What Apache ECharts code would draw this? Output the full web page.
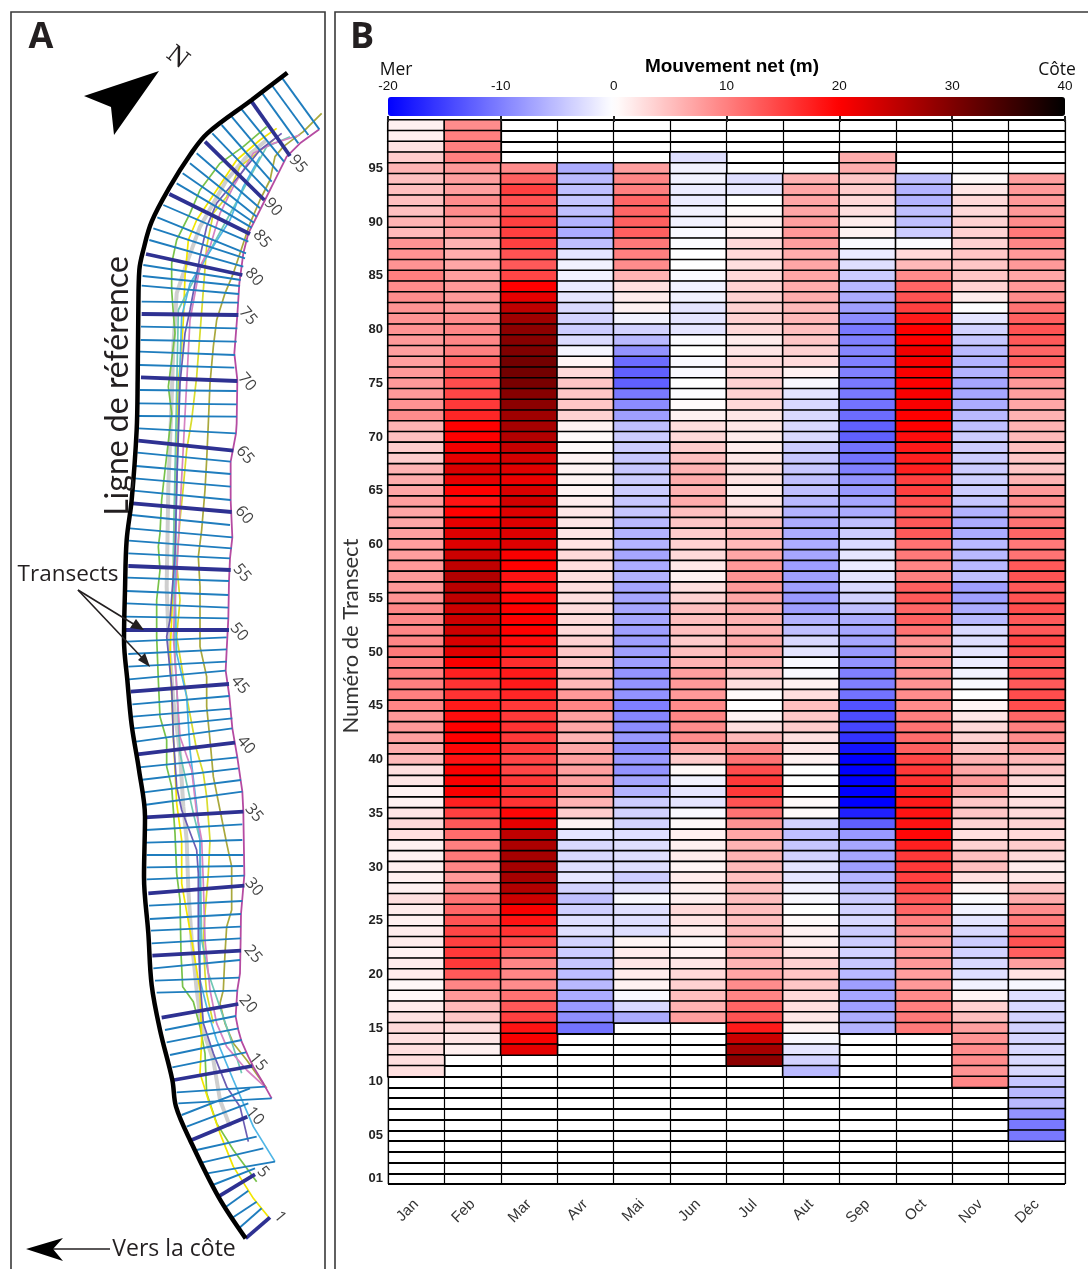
<!DOCTYPE html>
<html><head><meta charset="utf-8">
<style>html,body{margin:0;padding:0;background:#fff}#c{width:1088px;height:1269px}</style>
<script src="https://cdn.jsdelivr.net/npm/echarts@6/dist/echarts.min.js"></script>
</head><body><div id="c"></div>
<script>
const _ = null;
const months = ['Jan','Feb','Mar','Avr','Mai','Jun','Jul','Aut','Sep','Oct','Nov','Déc'];
const rowLabels = ['01','02','03','04','05','06','07','08','09','10','11','12','13','14','15','16','17','18','19','20','21','22','23','24','25','26','27','28','29','30','31','32','33','34','35','36','37','38','39','40','41','42','43','44','45','46','47','48','49','50','51','52','53','54','55','56','57','58','59','60','61','62','63','64','65','66','67','68','69','70','71','72','73','74','75','76','77','78','79','80','81','82','83','84','85','86','87','88','89','90','91','92','93','94','95','96','97','98','99'];
const shownRows = ['01','05','10','15','20','25','30','35','40','45','50','55','60','65','70','75','80','85','90','95'];
// each month: transect 99 down to transect 1
const jan = [1.2,1.2,2.2,4,6,5,5,5,5,6, 5.5,8.5,8.5,8.5,10,9,9,8.5,8.5,8.5, 8,7.5,7.5,8,8,8,8.5,9,6,5, 4,4,6,6.5,7,7.5,7,7,7.5,7.5, 7.5,8,8,8,8.5,9.5,9.5,9.5,9.5,10.5, 10,10,10,10,9.5,8,8,7.5,6.5,5.5, 2.5,2,1,1,2,3,2.5,1.2,1.2,1.2, 1.2,1.2,2.5,1.5,1.2,1.5,1.5,1,1.5,1.5, .6,.6,1.5,2.2,3,2.5,2.5,2.5,2.5,_, _,_,_,_,_,_,_,_,_];
const feb = [9,10,10,10,8,7.5,7.5,9,9,8, 7.5,6,6.5,7,7.5,8,8,8,9,9.5, 9.5,10,12,13,14,14.5,15.5,17,20,20, 21,22,23,22,20,18.5,20,22,22.5,22.5, 24,25,26,25.5,25,24,24,24,23,22.5, 20.5,17.5,16,16,18,19,20,20,19.5,18.5, 20.5,20.5,20.5,17.5,15,13,11.5,10,10.5,9.5, 8,9,11,12,13.5,14.5,15,15.5,15.5,13, 9.5,8,5.5,4.5,2.8,2,1.2,_,_,_, _,_,_,_,_,_,_,_,_];
const mar = [_,_,_,_,9,12.5,15,13.5,13.5,15, 15,15,13.5,13,14.5,20,22,25,27.5,29, 29.5,30,31,31,30.5,29.5,29,27.5,27,26, 24.5,23.5,22.5,21.5,23,23.5,22.5,22.5,22.5,22.5, 20.5,20,18.5,18.5,19.5,20,20,20,19,18, 16.5,18,18,17,15.5,15.5,16,15.5,15.5,14.5, 14.5,15.5,16,16,19.5,22,25,26.5,27,27, 27,26,24,20.5,18.5,16,14,12,9.5,9.5, 9,11,13,15,18.5,20.5,22,_,_,_, _,_,_,_,_,_,_,_,_];
const avr = [_,_,_,_,-6.5,-5.5,-5,-4.5,-5,-6, -6.5,-5,-2,-1,-1,-1.5,-2,-3,-3.5,-4, -2.8,-.8,.8,3,4.5,4.5,4.5,3.5,1,.5, .5,1,1,1,1,1.5,2,2,2,2.3, 3,2.5,2.5,2.5,2.5,2.8,2.8,3,3.5,4.5, 4.5,5.5,5.5,8,9.5,7.5,7,6,7,7.5, 7.5,7.5,7.5,6,4,1,-2,-3,-3,-2.5, -2,-3.5,-5,-3.8,-2.5,-2.5,-3.5,-4,-4.5,-5.2, -5.5,-6.5,-8,-8.8,-11,_,_,_,_,_, _,_,_,_,_,_,_,_,_];
const mai = [_,_,_,_,7.5,9.5,10,12,12,12.5, 12.5,10.5,10,9,6,2.5,1.5,1,-1,-3.5, -5.5,-8.5,-11.5,-12.5,-12.5,-10.5,-9,-7.5,-5,-4, -4,-4.5,-4.5,-4,-4,-4.5,-4.5,-5.5,-6,-6, -7,-6.5,-6,-7,-7,-7,-7,-7.5,-7.5,-7.5, -7.5,-8.5,-8.5,-8.5,-10,-9.5,-9,-8,-9,-8, -8.5,-7,-6,-4,-3.5,-3.5,-2.5,-2.5,-2.5,-2.5, -4,-2.5,-.5,-2.5,-2.5,-2.5,.8,1.5,2,1.5, 1,-.5,-3,-6.5,_,_,_,_,_,_, _,_,_,_,_,_,_,_,_];
const jun = [_,_,_,-2.5,-1,-1,-1.5,-1.5,-1,-1, -.5,-.2,0,0,-.3,-1,-1,-2,-2,-2, -.3,0,-.5,-.5,0,-.2,.3,1,2.5,3, 4,5,6,6.5,6,6.5,5,4.5,4,3.5, 3,1.8,1,2.5,3.5,5,5,5,4,5, 6,7.5,8,8,9,9.5,9,9,7,4, .5,-1,-2,-2,-.5,.5,1.2,1.2,1.5,.8, 1.5,1.2,1.2,3,2.2,1.5,.6,1,2,3, 3.5,5,6,7.5,_,_,_,_,_,_, _,_,_,_,_,_,_,_,_];
const jul = [_,_,_,_,_,-2.5,-1.8,0,.3,1, 1.2,3,3,2.5,3,3.5,3.5,3.5,3.5,3, 1.5,2,2.8,3,3.5,3.5,3,2,2,1.5, 1.5,2,2.5,2.2,1.5,2,3,5,5.5,5.5, 7,8,8.5,8,7,6.5,6,6,6.5,7, 6,4.5,2.5,.5,0,1,2.5,5.5,9,11, 14,15.5,15.5,13.5,11,8.5,7,6,6,5.5, 5,5,5,5,5,5.5,6,6,6,7, 9,9.5,12,13.5,18,24,27,29,_,_, _,_,_,_,_,_,_,_,_];
const aut = [_,_,_,_,_,6,7,7,7,7.5, 8,7.5,6.5,7,7,6.5,6.5,5.5,5.5,5, 4.5,3.5,2.8,1,-.5,-2,-3,-3,-3,-3, -4,-4.5,-4.5,-5,-5,-5.5,-6,-6.5,-6.5,-6.5, -7,-7.5,-7.5,-7.5,-8,-7.5,-6,-5,-3,-2, -.5,-.5,1,2.5,5,4.5,4,2.5,2,1, 0,0,0,.5,.5,-3.5,-5,-4.5,-3.5,-2, -2,-1,-.5,0,.4,1,1.2,2.2,3.5,4.5, 4.5,3,2.5,2,1,-.5,-2,-3.5,-5.5,_, _,_,_,_,_,_,_,_,_];
const sep = [_,_,_,6.5,6.5,4.5,4,3,2.5,1.5, 1,-.5,-1.5,-2.5,-4,-5.5,-6.5,-7.5,-9,-10.5, -10,-9.5,-10,-10,-10.5,-10.5,-11,-11.5,-12.5,-12.5, -11,-11,-10,-8.5,-8,-7,-6.5,-5,-4,-2.8, -2,-1.5,-2,-3,-3.5,-5,-6.5,-7,-7,-8, -8.5,-10,-10,-11,-13.5,-14,-14.5,-16,-18.5,-20, -20,-20,-20,-20,-17.5,-12.5,-8,-7,-7,-7.5, -6,-5,-4,-3.5,-3,-4,-4,-3.5,-4.5,-5.5, -7.5,-7,-7.5,-6.5,-6,_,_,_,_,_, _,_,_,_,_,_,_,_,_];
const oct = [_,_,_,_,_,-5,-6,-6,-5,-5, -4,-.3,3,5.5,9,12,13.5,15,18,20, 20,21,20.5,20.5,20,20.5,20.5,20,20,19, 18,17.5,17.5,15,15,13.5,12.5,13,13,11, 10.5,9.5,10,12.5,13,12,12.5,11,8.5,8, 8.5,8.5,8.5,9,9,10,11,11.5,12.5,14.5, 15.5,16,17,18,18.5,18.5,19.5,17.5,15.5,15.5, 15,14.5,13,12,10,8.5,8,8,8,7.5, 8,9,10,10.5,10.5,_,_,_,_,_, _,_,_,_,_,_,_,_,_];
const nov = [_,_,_,_,_,.5,2,3,3,3.5, 3.5,3.5,4.5,4.5,4.5,3.5,1.5,-.1,-2,-3.5, -4.5,-5.5,-6,-6,-7,-7,-6.5,-5.5,-5,-4, -4,-4,-4,-3.8,-4,-4.5,-6,-6.5,-6.5,-5.5, -5.5,-5.5,-5,-7.5,-7.5,-6.5,-5.5,-3,-2.5,-2, -1.5,-1,-.5,0,.8,2,3,3.5,4.5,6, 7,8,6.5,4.5,4.5,3.5,2.5,3.5,5,5, 2.5,.8,-.2,-1,-2,-3,-4,-3.5,-3,-2.5, -1,.8,3.5,5,7.5,8.5,9,9,8.5,9.5, _,_,_,_,_,_,_,_,_];
const dec = [_,_,_,_,_,7.5,8,8,8,9, 10.5,9.5,8,8,7,8,9,11,12.5,13.5, 13,12,12.5,10.5,8,7.5,7,6,6,5.5, 5,4.5,4.5,6,8,9,9.5,11,12,10.5, 11,13,13.5,13,13.5,14,13,13,14.5,14, 13,13.5,13,14,14,12,10,9,7.5,5.5, 4.5,3,2.2,2.5,3,3.5,3,4,3,1.5, 2,4.5,6.5,9,10.5,12,13.5,12.5,7.5,2.2, -.6,-2.5,-3,-3.5,-3.5,-3.2,-3,-3,-3,-4.5, -5.5,-5.5,-8.5,-10.5,-10.5,_,_,_,_];
const columns = [jan,feb,mar,avr,mai,jun,jul,aut,sep,oct,nov,dec];

// map readings, in thirds of a pixel, by sheet section (y origin 0, 420, 840)
const baseline = [[[862,218],[755,300],[622,400],[570,465],[510,560],[455,665],[430,750],[418,810],[415,930],[413,1140]],
 [[410,30],[395,240],[380,360],[375,510],[372,660],[382,780],[395,915],[417,1050],[435,1190]],
 [[432,110],[445,280],[455,435],[480,570],[517,720],[528,800],[570,900],[655,1070],[737,1195]]];
const thinTransects = [[[845,232,958,388],[815,255,925,405],[785,278,895,430],[725,328,852,485],[695,350,833,515],[665,375,815,545],[637,400,805,575],[590,460,780,625],[570,490,770,650],[548,520,762,668],[530,550,755,683],[490,615,745,725],[472,652,738,760],[460,685,735,775],[448,720,730,800],[430,795,722,840],[428,828,720,858],[425,857,717,882],[425,905,715,908],[423,980,712,985],[422,1020,710,1025],[420,1055,705,1065],[420,1095,703,1103],[420,1170,710,1173],[415,1210,710,1213],[413,1248,710,1250]],
 [[415,25,708,40],[412,98,692,125],[408,138,692,162],[403,175,692,200],[400,212,692,240],[395,285,690,315],[390,325,697,352],[387,362,695,385],[385,400,690,415],[382,473,687,483],[380,513,685,525],[378,550,685,563],[375,590,685,595],[378,665,680,652],[385,702,680,688],[385,740,680,725],[387,778,677,752],[397,853,688,828],[398,890,692,866],[402,925,697,895],[408,965,697,925],[417,1042,712,1012],[420,1080,715,1045],[425,1118,723,1080],[432,1155,727,1115],[437,1230,727,1213]],
 [[438,8,727,0],[440,45,730,45],[440,82,730,78],[440,118,733,107],[447,197,727,183],[450,237,723,222],[453,272,722,260],[455,310,722,295],[460,385,720,360],[465,422,718,413],[470,458,712,452],[495,570,708,528],[500,607,715,565],[510,645,725,600],[517,682,738,637],[530,757,795,740],[535,790,815,775],[545,825,750,745],[560,860,745,790],[590,930,770,890],[605,968,790,925],[622,1000,825,965],[638,1035,765,985],[672,1105,745,1052],[695,1135,770,1085],[717,1165,785,1105]]];
const thickTransects = [[[755,305,870,468],[615,425,793,600],[508,582,750,702],[438,762,727,825],[425,942,715,945],[423,1132,712,1143]],
 [[415,62,700,92],[398,250,695,276],[385,438,692,450],[378,628,687,628],[392,815,687,792],[412,1003,705,968],[435,1192,730,1175]],
 [[445,160,733,137],[457,347,723,332],[485,533,715,492],[522,720,757,678],[575,900,742,830],[655,1070,765,1003],[737,1195,810,1132]]];
const shoreMagenta = [[[958,388],[900,430],[860,470],[830,530],[795,600],[765,660],[745,700],[730,760],[718,850],[712,945],[703,1060],[712,1140],[710,1270]],
 [[708,40],[692,125],[692,240],[697,352],[690,415],[687,483],[685,595],[680,690],[677,752],[688,828],[697,925],[712,1012],[727,1115],[730,1175]],
 [[733,105],[723,222],[722,295],[720,400],[712,450],[707,530],[715,570],[725,605],[745,650],[760,680],[790,730],[815,775]]];
const shoreOlive = [[[965,340],[910,395],[850,440],[825,470],[810,540],[780,600],[750,670],[725,745],[700,820],[675,880],[650,960],[640,1040],[630,1150],[625,1270]],
 [[620,120],[615,210],[605,330],[595,410],[600,500],[600,680],[620,770],[620,860],[630,960],[640,1070],[660,1170],[680,1270]],
 [[695,80],[695,210],[680,260],[675,340],[670,450],[660,490],[675,550],[700,610],[740,660],[800,745]]];
const shoreGreen = [[[800,380],[730,440],[660,490],[600,570],[570,640],[530,720],[515,790],[515,870],[520,940],[525,1000],[515,1080],[505,1160],[515,1240]],
 [[495,150],[485,240],[480,340],[475,380],[480,450],[470,540],[470,650],[475,780],[480,890],[500,960],[500,1040],[515,1100],[525,1240]],
 [[530,100],[540,180],[543,340],[548,440],[580,485],[600,560],[615,640],[620,760],[650,850],[700,930],[770,1025]]];
const shoreYellow = [[[830,385],[780,420],[710,480],[650,570],[590,660],[565,720],[555,830],[550,960],[545,1040],[535,1150]],
 [[525,200],[520,450],[515,600],[510,700],[520,950],[530,1150]],
 [[545,0],[545,130],[575,300],[600,450],[605,600],[600,700],[625,780],[660,880],[700,980],[760,1075],[805,1130]]];
const shoreLime = [[[820,420],[720,500],[680,590],[640,640],[620,740],[600,1000],[590,1130]],
 [[575,0],[560,90],[550,200],[540,300],[530,430],[540,540],[530,650],[560,830],[590,990],[610,1060],[620,1130]],
 [[630,0],[625,100],[615,220],[610,300],[615,400],[620,460],[640,550]]];
const shoreGray = [[[800,420],[740,470],[680,540],[600,680],[560,790],[530,880],[520,1040],[515,1200]],
 [[505,200],[500,500],[505,640],[520,840],[540,1000],[550,1160]],
 [[560,0],[565,150],[575,300],[590,450],[605,560],[640,660],[660,780],[690,860]]];
const shorePurple = [[[845,400],[780,450],[715,530],[650,610],[620,680],[600,770],[570,930],[555,1000],[540,1150]],
 [[530,200],[525,400],[510,600],[500,650],[515,800],[520,950],[530,1100],[545,1170],[590,1290]],
 [[590,30],[595,100],[595,300],[600,420],[610,550],[640,640],[680,740],[720,800],[745,905]]];
const shoreSky = [[[780,470],[730,560],[690,660],[620,770],[570,850],[545,950],[540,1100]],
 [[530,200],[525,500],[530,700],[560,830],[570,990],[590,1160]],
 [[600,0],[600,120],[600,420],[625,520],[650,600],[700,720],[760,860],[825,965]]];
const shoreTeal = [[[870,410],[800,440],[740,550],[680,660],[620,770],[560,880],[535,930]],
 [[520,400],[525,700],[540,1000],[580,1180]],
 [[600,0],[605,300],[625,400],[690,590],[725,700]]];
const shorePink = [[[900,405],[820,430],[760,460],[700,560],[660,640],[630,740],[600,800],[570,960]],
 [[520,650],[540,950],[575,1050],[590,1180]],
 [[605,0],[610,130],[615,300],[630,450],[650,550],[680,620],[740,690],[800,745]]];
const mapLabels = [['95',298,164],['90',273,207],['85',262,239],['80',254,277],['75',248,316],['70',247,382],['65',245,455],['60',244,515],['55',242,573],['50',239,632],['45',240,685],['40',246,745],['35',254,813],['30',254,887],['25',253,954],['20',248,1004],['15',258,1062],['10',255,1116],['5',263,1172],['1',280,1217]];

const origins = [0,420,840];
const toPts = secs => secs.flatMap((s,i)=>s.map(p=>[p[0]/3, origins[i]+p[1]/3]));
const toSegs = secs => secs.flatMap((s,i)=>s.map(t=>({coords:[[t[0]/3,origins[i]+t[1]/3],[t[2]/3,origins[i]+t[3]/3]]})));
const heat = [];
columns.forEach((col,x)=>col.forEach((v,i)=>heat.push([x,98-i,v])));

const shore = (data,color,width,z,smooth)=>({type:'line',xAxisIndex:1,yAxisIndex:1,data:toPts(data),showSymbol:false,silent:true,z:z||2,smooth:smooth||false,
  lineStyle:{color,width:width||1.7},itemStyle:{color}});
const ink='#231F20', sans='"Open Sans","Noto Sans",sans-serif';
const T=(text,x,y,size,extra)=>({type:'text',x,y,z:20,rotation:(extra&&extra.rot||0)*Math.PI/180,
  style:{text,fontSize:size,fontFamily:(extra&&extra.font)||sans,fontWeight:(extra&&extra.weight)||'normal',fill:(extra&&extra.fill)||ink,align:(extra&&extra.align)||'center',verticalAlign:'middle'}});
const arrowLine=(pts)=>({type:'polyline',z:20,shape:{points:pts},style:{stroke:ink,lineWidth:1.6,fill:null}});
const poly=(pts,fill)=>({type:'polygon',z:20,shape:{points:pts},style:{fill:fill||'#000'}});

const chart = echarts.init(document.getElementById('c'),null,{renderer:'canvas'});
chart.setOption({
  animation:false,backgroundColor:'#fff',
  grid:[{left:388,top:120,width:677,height:1064,show:true,backgroundColor:'#fff',borderColor:'#777',borderWidth:1},
        {left:0,top:0,width:1088,height:1269,show:false},
        {left:388,top:97,width:677,height:19,show:false}],
  xAxis:[{type:'category',gridIndex:0,data:months,axisLine:{show:false},axisTick:{show:false},
          splitLine:{show:true,interval:0,lineStyle:{color:'#000',width:1.2}},
          axisLabel:{interval:0,rotate:45,margin:18,fontSize:15,fontFamily:'"Liberation Sans",Arial,sans-serif',color:'#333'}},
         {type:'value',gridIndex:1,min:0,max:1088,show:false},
         {type:'value',gridIndex:2,min:-20,max:40,interval:10,position:'top',z:10,axisLine:{show:false},
          axisTick:{show:true,inside:true,length:6,lineStyle:{color:'#222',width:2}},splitLine:{show:false},
          axisLabel:{margin:4,fontSize:13.5,color:'#111',fontFamily:'"Liberation Sans",Arial,sans-serif',showMinLabel:true,showMaxLabel:true}}],
  yAxis:[{type:'category',gridIndex:0,data:rowLabels,axisLine:{show:false},axisTick:{show:false},
          splitLine:{show:true,interval:0,lineStyle:{color:'#000',width:1.9}},
          axisLabel:{interval:(i,v)=>shownRows.includes(v),margin:5,fontSize:13,fontWeight:'bold',color:'#222',fontFamily:'"Liberation Sans",Arial,sans-serif'}},
         {type:'value',gridIndex:1,min:0,max:1269,inverse:true,show:false},
         {type:'value',gridIndex:2,min:0,max:1,show:false}],
  visualMap:[{type:'continuous',seriesIndex:0,min:-20,max:40,orient:'horizontal',left:388,top:97,itemWidth:19,itemHeight:677,
    calculable:false,text:null,showLabel:false,padding:0,
    inRange:{color:['#0000ff','#ffffff','#ff0000','#000000']},textStyle:{color:'transparent',fontSize:0}}],
  series:[
    {type:'heatmap',xAxisIndex:0,yAxisIndex:0,data:heat,progressive:0,silent:true,z:2,
     itemStyle:{borderColor:'#000',borderWidth:1.6}},
    shore(shoreGray,'#CFCFCF',4,2),
    shore(shoreOlive,'#A9A83C'),shore(shoreGreen,'#78C24A'),shore(shoreLime,'#D8DC2E'),shore(shoreYellow,'#F2E600'),
    shore(shoreTeal,'#70C8B4'),shore(shoreSky,'#4FB6E6'),shore(shorePink,'#D583C2'),shore(shorePurple,'#6C5DB3'),shore(shoreMagenta,'#B54BA2',1.8),
    {type:'lines',coordinateSystem:'cartesian2d',xAxisIndex:1,yAxisIndex:1,data:toSegs(thinTransects),silent:true,z:3,
     lineStyle:{color:'#1F7DBE',width:1.9,opacity:1}},
    {type:'lines',coordinateSystem:'cartesian2d',xAxisIndex:1,yAxisIndex:1,data:toSegs(thickTransects),silent:true,z:4,
     lineStyle:{color:'#2E3192',width:3.8,opacity:1}},
    shore(baseline,'#000',4.5,5,0.35),
    {type:'scatter',xAxisIndex:1,yAxisIndex:1,symbolSize:0,silent:true,z:6,
     data:mapLabels.map(l=>({name:l[0],value:[l[1],l[2]]})),
     label:{show:true,position:'inside',formatter:'{b}',rotate:-50,fontSize:16,color:'#111',fontFamily:sans}}
  ],
  graphic:{elements:[
    {type:'rect',z:19,shape:{x:11,y:12,width:314,height:1400},style:{fill:null,stroke:'#3a3a3a',lineWidth:1.6}},
    {type:'rect',z:19,shape:{x:335,y:12,width:900,height:1400},style:{fill:null,stroke:'#3a3a3a',lineWidth:1.6}},
    T('A',41,38,36,{weight:'bold'}),
    T('B',362,38,36,{weight:'bold'}),
    poly([[84,96],[159,71],[114,135],[111,107]]),
    T('N',177,58,24,{rot:-38,font:'"DejaVu Serif",serif'}),
    T('Ligne de référence',118,386,32,{rot:90,font:'Lato,sans-serif'}),
    T('Transects',68,575,22.5),
    T('Vers la côte',174,1249,23),
    arrowLine([[78,590],[140,628]]),poly([[144,630],[130,628],[136,619]],ink),
    arrowLine([[78,590],[147,663]]),poly([[150,667],[138,660],[145,653]],ink),
    arrowLine([[50,1249],[110,1249]]),poly([[26,1249],[63,1238],[53,1249],[63,1261]],'#000'),
    T('Mer',396,70,17.5,{fill:'#111'}),
    T('Côte',1057,70,17.5,{fill:'#111'}),
    T('Mouvement net (m)',732,67,19,{weight:'bold',fill:'#000',font:'"Liberation Sans",Arial,sans-serif'}),
    T('Numéro de Transect',351,636,22,{rot:90,font:'"Lato",sans-serif',fill:'#333'})
  ]}
});
</script></body></html>
